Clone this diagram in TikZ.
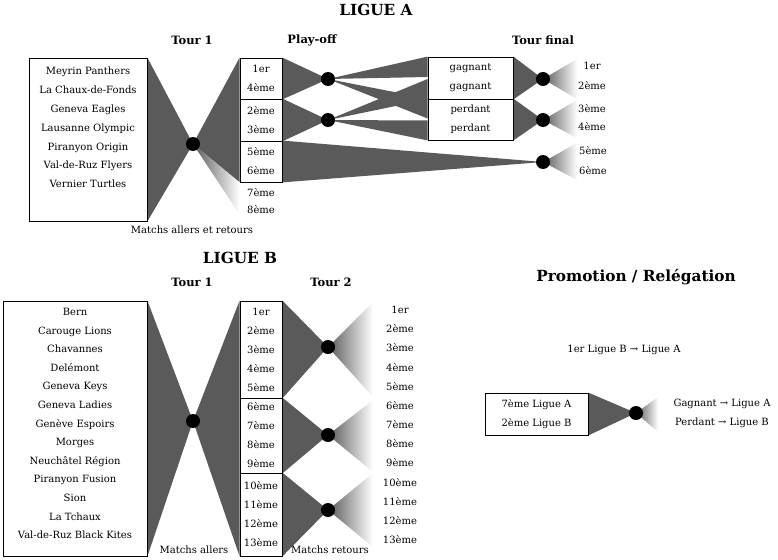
\documentclass[tikz,border=0pt]{standalone}
\usepackage{fontspec}
\setmainfont{DejaVu Serif}
\usetikzlibrary{positioning,calc,backgrounds}
\definecolor{fangray}{RGB}{90,90,90}

\begin{document}
\begin{tikzpicture}[x=1pt,y=-1pt,font=\fontsize{10}{19}\selectfont,
    title/.style={font=\bfseries\fontsize{15.3}{18}\selectfont},
    head/.style={font=\bfseries\fontsize{11.5}{14}\selectfont},
    frame/.style={draw,line width=.8pt,inner sep=0pt},
    rank/.style={frame,minimum width=42,align=center},
    list/.style={align=center,inner sep=0pt},
    dot/.style={circle,fill=black,inner sep=0pt,minimum size=14},
    fan/.style={fill=fangray},
    fade/.style={left color=fangray,right color=white}]
  \useasboundingbox (0,0) rectangle (778,559);

  % Ligue A
  \node[title] (ligA) at (376,10) {LIGUE A};
  \node[head] (hTourA) at (192,40) {Tour 1};
  \node[head] (hPlay) at (312,40) {Play-off};
  \node[head] (hFinal) at (543,40) {Tour final};

  \node[frame,minimum width=118,minimum height=163] (teamsA) at (88,139.5) {};
  \node[list,font=\fontsize{10}{18.8}\selectfont] (namesA) at (88,127.5) {Meyrin Panthers\\La Chaux-de-Fonds\\Geneva Eagles\\Lausanne Olympic\\Piranyon Origin\\Val-de-Ruz Flyers\\Vernier Turtles};
  \node (allerA) at (192,230) {Matchs allers et retours};
  \node[dot] (tA) at (193,144) {};

  \node[rank,minimum height=41] (poA1) at (261,78.5) {1er\\4ème};
  \node[rank,minimum height=42] (poA2) at (261,120) {2ème\\3ème};
  \node[rank,minimum height=41] (poA3) at (261,161.5) {5ème\\6ème};
  \node[list,font=\fontsize{10}{17}\selectfont] (elimA) at (261,201.5) {7ème\\8ème};
  \node[dot] (pA1) at (328,79) {};
  \node[dot] (pA2) at (328,120) {};

  \node[rank,minimum width=85,minimum height=42] (win) at (470.5,78) {gagnant\\gagnant};
  \node[rank,minimum width=85,minimum height=41] (lose) at (470.5,119.5) {perdant\\perdant};
  \node[dot] (fA1) at (543,79) {};
  \node[dot] (fA2) at (543,120) {};
  \node[dot] (fA3) at (543,162) {};
  \node[list,font=\fontsize{10}{20}\selectfont] (resA1) at (592,76) {1er\\2ème};
  \node[list,font=\fontsize{10}{18}\selectfont] (resA2) at (592,118) {3ème\\4ème};
  \node[list,font=\fontsize{10}{20}\selectfont] (resA3) at (593,161) {5ème\\6ème};

  % Ligue B
  \node[title] (ligB) at (240,258) {LIGUE B};
  \node[head] (hTourB1) at (192,282) {Tour 1};
  \node[head] (hTourB2) at (331,282) {Tour 2};

  \node[frame,minimum width=144,minimum height=255] (teamsB) at (75,428.5) {};
  \node[list,font=\fontsize{10}{18.6}\selectfont] (namesB) at (75,423.5) {Bern\\Carouge Lions\\Chavannes\\Delémont\\Geneva Keys\\Geneva Ladies\\Genève Espoirs\\Morges\\Neuchâtel Région\\Piranyon Fusion\\Sion\\La Tchaux\\Val-de-Ruz Black Kites};
  \node[dot] (tB) at (193,421) {};
  \node (allerB) at (194,550) {Matchs allers};
  \node (retourB) at (330,550) {Matchs retours};

  \node[rank,minimum height=97] (rB1) at (261,349.5) {1er\\2ème\\3ème\\4ème\\5ème};
  \node[rank,minimum height=75] (rB2) at (261,435.5) {6ème\\7ème\\8ème\\9ème};
  \node[rank,minimum height=83] (rB3) at (261,514.5) {10ème\\11ème\\12ème\\13ème};
  \node[dot] (sB1) at (328,347) {};
  \node[dot] (sB2) at (328,435) {};
  \node[dot] (sB3) at (328,510) {};
  \node[list,font=\fontsize{10}{19.17}\selectfont] (resB) at (400,425) {1er\\2ème\\3ème\\4ème\\5ème\\6ème\\7ème\\8ème\\9ème\\10ème\\11ème\\12ème\\13ème};

  % Promotion / Relegation
  \node[title] (promo) at (636,277) {Promotion / Relégation};
  \node (direct) at (624,350) {1er Ligue B → Ligue A};
  \node[rank,minimum width=103,minimum height=42] (barr) at (536.5,414) {7ème Ligue A\\2ème Ligue B};
  \node[dot] (bDot) at (636,413) {};
  \node[list] (barrRes) at (722,413.5) {Gagnant → Ligue A\\Perdant → Ligue B};

  \begin{scope}[on background layer]
    \fill[fan] (teamsA.north east) -- (teamsA.south east) -- (tA.center) -- cycle;
    \fill[fan] (tA.center) -- (poA1.north west) -- (poA3.south west) -- cycle;
    \shade[fade] (tA.center) -- (poA3.south west) -- ($(poA3.south west)+(0,32)$) -- cycle;
    \fill[fan] (poA1.north east) -- (poA1.south east) -- (pA1.center) -- cycle;
    \fill[fan] (poA2.north east) -- (poA2.south east) -- (pA2.center) -- cycle;
    \fill[fan] (pA1.center) -- (win.north west) -- ($(win.west)+(0,-1)$) -- cycle;
    \fill[fan] (pA1.center) -- (lose.north west) -- ($(lose.west)+(0,-1)$) -- cycle;
    \fill[fan] (pA2.center) -- ($(win.west)+(0,1)$) -- (win.south west) -- cycle;
    \fill[fan] (pA2.center) -- ($(lose.west)+(0,1)$) -- (lose.south west) -- cycle;
    \fill[fan] (poA3.north east) -- (poA3.south east) -- (fA3.center) -- cycle;
    \fill[fan] (win.north east) -- (win.south east) -- (fA1.center) -- cycle;
    \fill[fan] (lose.north east) -- (lose.south east) -- (fA2.center) -- cycle;
    \shade[fade] (fA1.center) -- ($(fA1)+(34,-20)$) -- ($(fA1)+(34,20)$) -- cycle;
    \shade[fade] (fA2.center) -- ($(fA2)+(34,-20)$) -- ($(fA2)+(34,18)$) -- cycle;
    \shade[fade] (fA3.center) -- ($(fA3)+(34,-19)$) -- ($(fA3)+(34,18)$) -- cycle;

    \fill[fan] (teamsB.north east) -- (teamsB.south east) -- (tB.center) -- cycle;
    \fill[fan] (tB.center) -- (rB1.north west) -- (rB3.south west) -- cycle;
    \fill[fan] (rB1.north east) -- (rB1.south east) -- (sB1.center) -- cycle;
    \fill[fan] (rB2.north east) -- (rB2.south east) -- (sB2.center) -- cycle;
    \fill[fan] (rB3.north east) -- (rB3.south east) -- (sB3.center) -- cycle;
    \shade[fade] (sB1.center) -- ($(sB1)+(45,-45)$) -- ($(sB1)+(45,50)$) -- cycle;
    \shade[fade] (sB2.center) -- ($(sB2)+(45,-35)$) -- ($(sB2)+(45,37)$) -- cycle;
    \shade[fade] (sB3.center) -- ($(sB3)+(45,-37)$) -- ($(sB3)+(45,37)$) -- cycle;

    \fill[fan] (barr.north east) -- (barr.south east) -- (bDot.center) -- cycle;
    \shade[fade] (bDot.center) -- ($(bDot)+(22,-16)$) -- ($(bDot)+(22,19)$) -- cycle;
  \end{scope}
\end{tikzpicture}
\end{document}
